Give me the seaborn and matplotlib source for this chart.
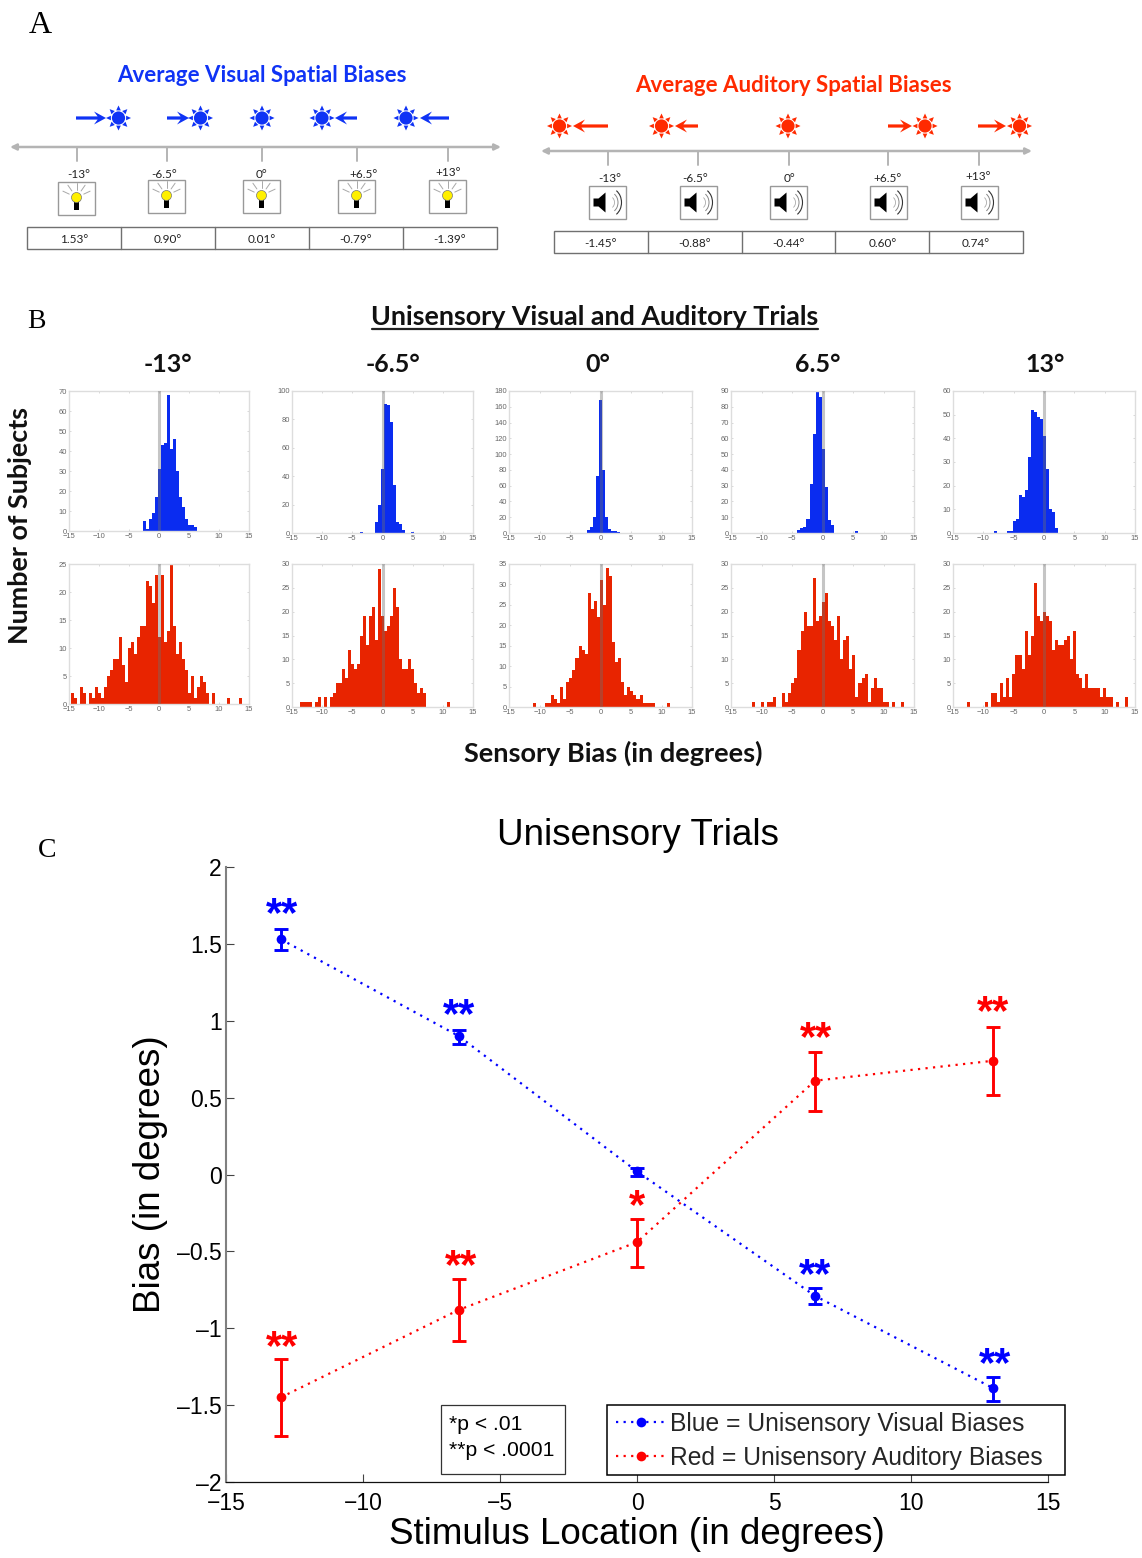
import matplotlib
matplotlib.use("Agg")
import matplotlib.pyplot as plt
import matplotlib.patches as mpatches
import numpy as np
import seaborn as sns

# Panel A labels
offset_labels = ["-13°", "-6.5°", "0°", "+6.5°", "+13°"]
visual_table = ["1.53°", "0.90°", "0.01°", "-0.79°", "-1.39°"]
auditory_table = ["-1.45°", "-0.88°", "-0.44°", "0.60°", "0.74°"]

# Panel B histograms: first bin edge and counts per 0.5 degree bin
column_titles = ["-13°", "-6.5°", "0°", "6.5°", "13°"]
blue_starts = [-2.67, -3.75, -2.25, -4.13, -8.18]
blue_counts = [
    [5, 1, 6, 9, 17, 31, 43, 44, 68, 41, 46, 30, 17, 12, 6, 3, 3, 2],
    [1, 0, 0, 0, 0, 8, 20, 45, 91, 90, 78, 34, 8, 6, 2, 0, 0, 1],
    [4, 8, 20, 72, 168, 80, 20, 5, 3, 2, 1],
    [2, 3, 4, 9, 31, 63, 90, 86, 53, 29, 8, 5, 0, 0, 0, 0, 0, 0, 0, 1],
    [1, 0, 0, 0, 1, 1, 5, 6, 16, 15, 18, 32, 52, 51, 49, 48, 41, 27, 10, 9, 2],
]
blue_ymax = [70, 100, 180, 90, 60]
blue_ystep = [10, 20, 20, 10, 10]

red_starts = [-14.6, -13.75, -11.1, -11.6, -12.7]
red_counts = [
    [2, 1, 0, 3, 2, 0, 2, 1, 3, 2, 1, 3, 5, 6, 8, 8, 12, 7, 4, 10, 11, 9, 12, 14, 14, 22, 21, 18, 23,
     12, 23, 11, 13, 25, 14, 9, 11, 8, 6, 2, 5, 1, 3, 5, 4, 2, 0, 2, 0, 0, 0, 0, 1, 0, 0, 0, 1],
    [1, 1, 1, 1, 0, 1, 2, 0, 2, 0, 2, 3, 5, 5, 8, 6, 12, 9, 8, 9, 15, 19, 13, 19, 21, 14, 29, 19, 16,
     17, 19, 25, 21, 10, 8, 8, 10, 8, 5, 3, 4, 3, 0, 0, 0, 0, 0, 0, 0, 1],
    [1, 0, 0, 0, 1, 1, 3, 2, 1, 5, 2, 6, 7, 9, 12, 15, 14, 13, 28, 24, 26, 22, 31, 25, 34, 32, 16, 11,
     12, 6, 3, 5, 4, 3, 2, 3, 1, 1, 1, 1, 0, 0, 0, 0, 1],
    [1, 0, 0, 1, 0, 1, 1, 2, 0, 0, 3, 1, 3, 5, 6, 12, 16, 20, 17, 17, 27, 18, 19, 22, 24, 18, 17, 14,
     19, 10, 14, 15, 8, 11, 2, 5, 6, 7, 1, 4, 6, 4, 4, 1, 1, 0, 1, 0, 0, 1],
    [1, 0, 0, 0, 0, 0, 1, 0, 3, 3, 1, 5, 2, 6, 2, 7, 11, 11, 8, 16, 11, 15, 26, 19, 18, 20, 19, 18, 12,
     14, 13, 13, 14, 15, 10, 16, 7, 6, 4, 7, 4, 4, 4, 4, 2, 4, 2, 2, 0, 1, 0, 0, 2],
]
red_ymax = [25, 30, 35, 30, 30]
red_ystep = [5, 5, 5, 5, 5]

# Panel C data
locations = [-13, -6.5, 0, 6.5, 13]
visual_bias = [1.53, 0.90, 0.02, -0.79, -1.39]
visual_low = [1.46, 0.85, -0.01, -0.84, -1.47]
visual_high = [1.60, 0.94, 0.04, -0.74, -1.32]
auditory_bias = [-1.45, -0.88, -0.44, 0.61, 0.74]
auditory_low = [-1.70, -1.08, -0.60, 0.41, 0.52]
auditory_high = [-1.20, -0.68, -0.29, 0.80, 0.96]
visual_star_x = [-12.95, -6.5, 6.5, 13.05]
visual_star_y = [1.74, 1.08, -0.61, -1.19]
visual_star_text = ["**", "**", "**", "**"]
auditory_star_x = [-12.95, -6.42, 0, 6.53, 12.98]
auditory_star_y = [-1.08, -0.55, -0.16, 0.93, 1.10]
auditory_star_text = ["**", "**", "*", "**", "**"]
x_ticks = [-15, -10, -5, 0, 5, 10, 15]
y_ticks = [-2, -1.5, -1, -0.5, 0, 0.5, 1, 1.5, 2]
y_tick_labels = ["–2", "–1.5", "–1", "–0.5", "0", "0.5", "1", "1.5", "2"]

W, H = 1142, 1558
BLUE = "#0f33f5"
RED = "#ff2a00"
GREY = "#b4b4b4"
HEAD = "Lato"
SERIF = "Liberation Serif"
SANS = "Liberation Sans"

sns.set_theme(style="white")
plt.rcParams["font.family"] = [SANS, "DejaVu Sans"]

fig = plt.figure(figsize=(W / 100, H / 100), dpi=100)


def px_axes(x0, y0, x1, y1, **kwargs):
    return fig.add_axes([x0 / W, 1 - y1 / H, (x1 - x0) / W, (y1 - y0) / H], **kwargs)


# overlay in pixel coordinates for the schematic and free text
bg = px_axes(0, 0, W, H, zorder=10)
bg.set_xlim(0, W)
bg.set_ylim(H, 0)
bg.axis("off")


def draw_sun(x, y, color):
    bg.add_patch(mpatches.Circle((x, y), 6.6, color=color, lw=0))
    for a in np.arange(8) * np.pi / 4:
        ca, sa = np.cos(a), np.sin(a)
        tip = (x + 12.5 * ca, y + 12.5 * sa)
        b1 = (x + 7.6 * ca - 2.3 * sa, y + 7.6 * sa + 2.3 * ca)
        b2 = (x + 7.6 * ca + 2.3 * sa, y + 7.6 * sa - 2.3 * ca)
        bg.add_patch(mpatches.Polygon([tip, b1, b2], color=color, lw=0))


def draw_arrow(x0, x1, y, color):
    bg.add_patch(mpatches.FancyArrow(x0, y, x1 - x0, 0, width=3.2, head_width=13, head_length=12,
                                     length_includes_head=True, overhang=0.3, color=color, lw=0))


def draw_bulb(x, y):
    # x, y is the centre of the icon box
    for a in [-155, -125, -90, -55, -25]:
        ca, sa = np.cos(np.radians(a)), np.sin(np.radians(a))
        bg.plot([x + 8 * ca, x + 15 * ca], [y - 1 + 8 * sa, y - 1 + 15 * sa], color="#a8a8a8", lw=0.7)
    bg.add_patch(mpatches.Rectangle((x - 2.5, y + 2), 5, 9, color="black", lw=0))
    bg.add_patch(mpatches.Circle((x, y - 1), 5, facecolor="#fff000", edgecolor="#777777", lw=0.5))


def draw_speaker(x, y):
    px = [x - 14, x - 9, x - 2, x - 2, x - 9, x - 14]
    py = [y - 4, y - 4, y - 10, y + 10, y + 4, y + 4]
    bg.add_patch(mpatches.Polygon(list(zip(px, py)), color="black", lw=0))
    for r, c, lw in [(5, "#aaaaaa", 0.6), (8.5, "#888888", 0.7), (12, "#333333", 0.8)]:
        bg.add_patch(mpatches.Arc((x + 2, y), 2 * r, 2.4 * r, theta1=-60, theta2=60, color=c, lw=lw))


def draw_row(line_y, line_x, tick_xs, label_pos, box_x, box_y, table_x, table_y, table_vals, icon):
    # number line with arrow heads at both ends
    bg.annotate("", xy=(line_x[0], line_y), xytext=(line_x[1], line_y),
                arrowprops=dict(arrowstyle="<|-|>", color=GREY, lw=1.8, shrinkA=0, shrinkB=0, mutation_scale=9))
    for i in range(5):
        bg.plot([tick_xs[i], tick_xs[i]], [line_y, line_y + 14], color=GREY, lw=1.4)
        bg.text(label_pos[i][0], label_pos[i][1] + 1, offset_labels[i], fontsize=8.5, family=HEAD,
                ha="center", va="center", color="#222222")
        by = box_y[i]
        bg.add_patch(mpatches.Rectangle((box_x[i], by), 37, 33, facecolor="white", edgecolor="#999999", lw=1))
        icon(box_x[i] + 18.5, by + 16.5)
    width = (table_x[1] - table_x[0]) / 5
    bg.add_patch(mpatches.Rectangle((table_x[0], table_y), table_x[1] - table_x[0], 22,
                                    facecolor="white", edgecolor="#707070", lw=1))
    for i in range(5):
        if i > 0:
            bg.plot([table_x[0] + i * width] * 2, [table_y, table_y + 22], color="#707070", lw=1)
        bg.text(table_x[0] + (i + 0.5) * width, table_y + 12.5, table_vals[i], fontsize=8.5, family=HEAD,
                ha="center", va="center", color="#222222")


# Panel A, left block
bg.text(40, 25, "A", fontsize=23, family=SERIF, ha="center", va="center", color="black")
bg.text(262, 75, "Average Visual Spatial Biases", fontsize=16, family=HEAD, weight="bold",
        color=BLUE, ha="center", va="center")
for sx in [118.5, 200.5, 262, 322, 406]:
    draw_sun(sx, 118, BLUE)
for x0, x1 in [(76, 106), (167, 189), (357, 335), (449, 420)]:
    draw_arrow(x0, x1, 118, BLUE)
draw_row(147, (10, 501), [76.5, 167, 262, 357, 448],
         [(79, 173), (164, 173), (262, 173), (364, 173), (448, 171)],
         [58, 148, 243, 338, 429], [182, 180, 180, 180, 180], (27, 497), 227, visual_table, draw_bulb)

# Panel A, right block
bg.text(793, 85, "Average Auditory Spatial Biases", fontsize=16, family=HEAD, weight="bold",
        color=RED, ha="center", va="center")
for sx in [559.5, 661.5, 788, 925, 1019.5]:
    draw_sun(sx, 126, RED)
for x0, x1 in [(608, 573), (698, 675), (888, 912), (978, 1006)]:
    draw_arrow(x0, x1, 126, RED)
draw_row(151, (541, 1032), [608, 698, 788.5, 888, 978.5],
         [(610, 177), (695, 177), (789, 177), (888, 177), (978, 175)],
         [589, 680, 770, 870, 961], [186, 186, 186, 186, 186], (554, 1023), 231, auditory_table, draw_speaker)

# Panel B text
bg.text(36, 321, "B", fontsize=20, family=SERIF, ha="center", va="center", color="black")
bg.text(595, 317, "Unisensory Visual and Auditory Trials", fontsize=19.4, family=HEAD, weight="bold",
        color="#111111", ha="center", va="center")
bg.plot([372, 818], [329, 329], color="#222222", lw=1.6)
for cx, title in zip([168, 393, 598, 818, 1045], column_titles):
    bg.text(cx, 364, title, fontsize=18, family=HEAD, weight="bold", color="#111111", ha="center", va="center")
bg.text(20, 525, "Number of Subjects", fontsize=19.4, family=HEAD, weight="bold", color="#111111",
        rotation=90, ha="center", va="center")
bg.text(613, 753, "Sensory Bias (in degrees)", fontsize=19.5, family=HEAD, weight="bold", color="#111111",
        ha="center", va="center")

# Panel B histograms
col_left = [69, 292, 509, 731, 953]
col_right = [249, 473, 692, 914, 1135]
top_bottom = [531, 533, 533, 533, 533]
low_bottom = [704, 707, 707, 707, 707]


def draw_hist(ax, start, counts, ymax, ystep, color):
    centers = start + 0.25 + 0.5 * np.arange(len(counts))
    sns.histplot(x=centers, weights=counts, binwidth=0.5, binrange=(start, start + 0.5 * len(counts)),
                 color=color, alpha=1, linewidth=0, ax=ax)
    ax.axvline(0, color="#6e6e6e", lw=2.2, alpha=0.4, zorder=5)
    ax.set_xlim(-15, 15)
    ax.set_ylim(0, ymax)
    ax.set_xticks(np.arange(-15, 16, 5))
    ax.set_yticks(np.arange(0, ymax + 1, ystep))
    ax.set_xlabel("")
    ax.set_ylabel("")
    ax.tick_params(axis="both", labelsize=5.4, labelcolor="#666666", length=1.5, width=0.4, color="#bbbbbb",
                   direction="in", pad=1.5, bottom=True, left=True, top=True, right=True)
    for spine in ax.spines.values():
        spine.set_color("#dddddd")
        spine.set_linewidth(1)


for i in range(5):
    top_ax = px_axes(col_left[i], 391, col_right[i], top_bottom[i])
    draw_hist(top_ax, blue_starts[i], blue_counts[i], blue_ymax[i], blue_ystep[i], "#0a2cf0")
    low_ax = px_axes(col_left[i], 564, col_right[i], low_bottom[i])
    draw_hist(low_ax, red_starts[i], red_counts[i], red_ymax[i], red_ystep[i], "#e82400")

# Panel C
bg.text(47, 850, "C", fontsize=20, family=SERIF, ha="center", va="center", color="black")
bg.text(638, 835, "Unisensory Trials", fontsize=26.5, ha="center", va="center", color="black")

ax = px_axes(226, 867, 1048, 1482, facecolor="none")
dots = (0, (1, 2.4))
sns.lineplot(x=locations, y=visual_bias, color="#0000ff", linestyle=dots, linewidth=1.6, marker="o",
             markersize=7, markeredgewidth=0, errorbar=None, label="Blue = Unisensory Visual Biases", ax=ax)
sns.lineplot(x=locations, y=auditory_bias, color="#ff0000", linestyle=dots, linewidth=1.6, marker="o",
             markersize=7, markeredgewidth=0, errorbar=None, label="Red = Unisensory Auditory Biases", ax=ax)

for bias, low, high, color in [(visual_bias, visual_low, visual_high, "#0000ff"),
                               (auditory_bias, auditory_low, auditory_high, "#ff0000")]:
    lower = np.array(bias) - np.array(low)
    upper = np.array(high) - np.array(bias)
    ax.errorbar(locations, bias, yerr=[lower, upper], fmt="none", ecolor=color, elinewidth=2.1,
                capsize=5, capthick=2.1)

for sx, sy, label, color in zip(visual_star_x + auditory_star_x, visual_star_y + auditory_star_y,
                                visual_star_text + auditory_star_text,
                                ["#0000ff"] * 4 + ["#ff0000"] * 5):
    ax.annotate(label, (sx, sy), xytext=(0, -13.5), textcoords="offset points", ha="center", va="baseline",
                fontsize=30, weight="bold", color=color, annotation_clip=False)

ax.set_xlim(-15, 15)
ax.set_ylim(-2, 2)
ax.set_xticks(x_ticks)
ax.set_yticks(y_ticks)
ax.set_yticklabels(y_tick_labels)
ax.spines["top"].set_visible(False)
ax.spines["right"].set_visible(False)
ax.spines["left"].set_color("#808080")
ax.spines["left"].set_linewidth(1.5)
ax.spines["bottom"].set_color("#111111")
ax.spines["bottom"].set_linewidth(0.9)
ax.tick_params(axis="both", labelsize=16.5, labelcolor="black", direction="in", length=5.5, width=0.8,
               color="#444444", bottom=True, left=True)
ax.tick_params(axis="x", pad=7.5)
ax.tick_params(axis="y", pad=3)
ax.set_xlabel("Stimulus Location (in degrees)", fontsize=26.5, color="black", va="center")
ax.xaxis.set_label_coords(0.5, -(1535 - 1482) / 615)
ax.set_ylabel("Bias (in degrees)", fontsize=26.5, color="black", va="center")
ax.yaxis.set_label_coords(-(226 - 151) / 822, 0.5)

# legend box is wider than its text, so the frame is drawn apart
ax.add_patch(mpatches.Rectangle((607 / W, 1 - 1475 / H), 458 / W, 70 / H, transform=fig.transFigure,
                                facecolor="white", edgecolor="black", lw=1.1, clip_on=False, zorder=5))
leg = ax.legend(loc="lower left", bbox_to_anchor=((616 - 226) / 822, (1482 - 1470) / 615), fontsize=17.7,
                frameon=False, borderpad=0, handlelength=2.0, handletextpad=0.2, labelspacing=0.42,
                borderaxespad=0)
leg.set_zorder(6)

# p value note
bg.add_patch(mpatches.Rectangle((441, 1405), 124, 69, facecolor="white", edgecolor="#333333", lw=0.9))
bg.text(449, 1425, "*p < .01", fontsize=15.2, ha="left", va="center", color="black")
bg.text(449, 1450, "**p < .0001", fontsize=15.2, ha="left", va="center", color="black")

fig.savefig("out.png", dpi=100)
